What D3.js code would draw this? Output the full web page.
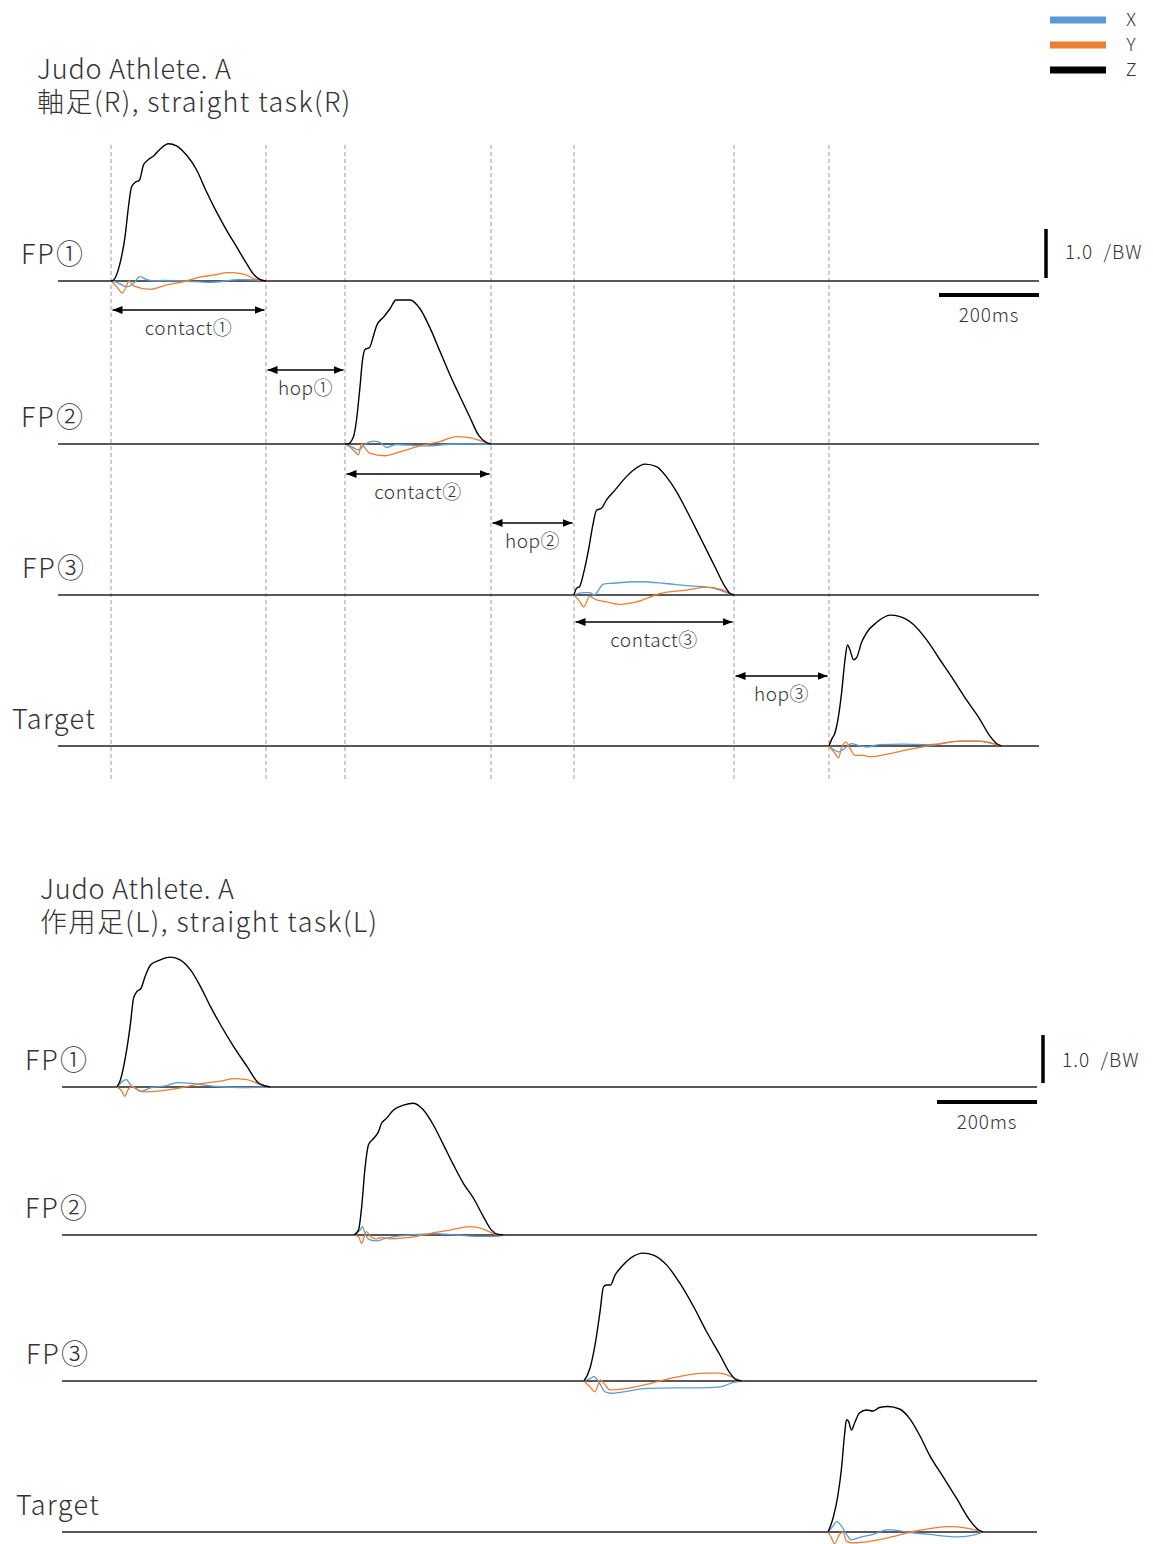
<!DOCTYPE html>
<html><head><meta charset="utf-8">
<script src="https://cdn.jsdelivr.net/npm/d3@7"></script>
<style>
html,body{margin:0;padding:0;background:#fff;}
svg{display:block;}
text{font-family:"Noto Sans CJK JP","Noto Sans",sans-serif;fill:#333;font-weight:300;}
</style></head>
<body>
<svg id="chart" width="1153" height="1544"></svg>
<script>
// ---------------- DATA ----------------
const seriesNames = ["X", "Y", "Z"];
const seriesColors = ["#5B9BD5", "#ED7D31", "#000000"];
const rowLabels = ["FP①", "FP②", "FP③", "Target"];
const titleA = ["Judo Athlete. A", "軸足(R), straight task(R)"];
const titleB = ["Judo Athlete. A", "作用足(L), straight task(L)"];
const scaleForceLabel = "1.0  /BW";
const scaleTimeLabel = "200ms";
const scaleTimeMs = 200;
const scaleForceBW = 1.0;

// contact start time (ms) of each plate, per panel
const startsA = [0, 468, 926, 1436];
const startsB = [0, 474, 934, 1422];
// event markers (ms) in panel A
const eventsA = [0, 310, 468, 760, 926, 1246, 1436];
const phaseLabels = ["contact①", "hop①", "contact②", "hop②", "contact③", "hop③"];

// Panel A curves: [ms from contact start, force /BW]
const aFP1Z = [[0,0],[5,0.02],[18,0.36],[28,0.9],[35,1.52],[41,1.92],[48,2.01],[57,2.06],[65,2.37],[75,2.48],[85,2.55],[98,2.69],[115,2.8],[131,2.76],[151,2.57],[171,2.27],[191,1.82],[211,1.41],[231,1.04],[251,0.7],[271,0.36],[285,0.14],[300,0.02],[310,0]];
const aFP1X = [[0,0],[9,-0.02],[18,-0.06],[31,-0.12],[44,-0.06],[58,0.09],[71,0.03],[91,0],[105,0.01],[145,0],[198,-0.03],[258,0.03],[290,0.02],[310,0]];
const aFP1Y = [[0,0],[10,-0.1],[23,-0.24],[37,0],[45,-0.1],[78,-0.17],[111,-0.08],[151,0],[178,0.08],[204,0.12],[235,0.17],[265,0.14],[285,0.05],[310,0]];

const aFP2Z = [[0,0],[5,0],[17,0.15],[23,0.49],[30,1.17],[35,1.71],[40,1.93],[49,1.97],[57,2.21],[63,2.41],[77,2.59],[90,2.76],[102,2.94],[130,2.94],[150,2.76],[170,2.37],[190,1.89],[210,1.41],[230,0.97],[250,0.54],[267,0.18],[283,0.03],[292,0]];
const aFP2X = [[0,0],[12,-0.05],[27,-0.12],[40,0],[57,0.06],[72,0.02],[83,-0.07],[103,-0.01],[157,-0.04],[223,0],[292,0]];
const aFP2Y = [[0,0],[12,-0.08],[20,-0.16],[27,-0.22],[33,0],[38,-0.06],[50,-0.19],[80,-0.24],[110,-0.16],[157,-0.02],[190,0.05],[223,0.15],[250,0.13],[270,0.07],[292,0]];

const aFP3Z = [[0,0],[5,0.14],[11,0.17],[19,0.44],[29,0.92],[37,1.39],[45,1.73],[55,1.77],[65,1.94],[82,2.14],[99,2.35],[119,2.55],[142,2.67],[165,2.62],[185,2.41],[205,2.11],[225,1.73],[245,1.33],[265,0.92],[285,0.51],[302,0.17],[312,0.03],[320,0]];
const aFP3X = [[0,0],[19,0.05],[32,0.05],[40,0],[59,0.22],[79,0.24],[132,0.27],[179,0.24],[225,0.19],[259,0.17],[292,0.1],[312,0.02],[320,0]];
const aFP3Y = [[0,0],[9,-0.1],[20,-0.24],[31,-0.03],[45,-0.1],[65,-0.14],[92,-0.19],[125,-0.14],[172,0.03],[225,0.1],[265,0.16],[292,0.12],[320,0]];

const aTgZ = [[0,0],[5,0.13],[12,0.27],[19,0.61],[25,1.07],[32,1.76],[37,2.06],[42,1.96],[49,1.76],[55,1.8],[65,2.11],[75,2.31],[95,2.52],[122,2.67],[142,2.64],[169,2.48],[195,2.17],[222,1.76],[249,1.35],[275,0.94],[302,0.54],[322,0.2],[335,0.05],[345,0]];
const aTgX = [[0,0],[9,-0.07],[19,-0.12],[29,-0.07],[45,0.05],[59,0.01],[75,-0.02],[102,0.03],[149,0.04],[202,0.03],[262,0.1],[302,0.1],[345,0]];
const aTgY = [[0,0],[12,-0.15],[19,-0.24],[25,-0.03],[34,0.08],[42,-0.05],[52,-0.19],[69,-0.19],[82,-0.22],[115,-0.17],[155,-0.08],[215,0.03],[262,0.1],[295,0.1],[345,0]];

// Panel B curves
const bFP1Z = [[0,0],[7,0.15],[17,0.62],[27,1.3],[33,1.81],[40,1.95],[48,2.01],[55,2.22],[67,2.49],[83,2.58],[107,2.65],[127,2.59],[147,2.39],[167,2.05],[187,1.64],[207,1.27],[233,0.83],[260,0.42],[283,0.08],[297,0.02],[307,0]];
const bFP1X = [[0,0],[10,0.11],[19,0.15],[27,0.04],[37,-0.02],[47,-0.09],[67,-0.02],[100,0.03],[120,0.09],[153,0.07],[200,0.01],[247,-0.01],[307,0]];
const bFP1Y = [[0,0],[10,-0.09],[15,-0.19],[23,-0.04],[30,0.01],[40,-0.05],[53,-0.1],[87,-0.08],[127,-0.02],[167,0.07],[207,0.12],[233,0.17],[260,0.15],[287,0.05],[307,0]];

const bFP2Z = [[0,0],[9,0.1],[15,0.54],[22,1.36],[29,1.84],[39,1.97],[49,2.11],[55,2.28],[65,2.38],[79,2.55],[99,2.65],[119,2.69],[139,2.55],[159,2.24],[179,1.84],[199,1.43],[219,1.05],[239,0.75],[259,0.37],[275,0.1],[289,0.01],[299,0]];
const bFP2X = [[0,0],[12,0.1],[17,0.17],[22,0.03],[32,-0.1],[45,-0.12],[59,-0.08],[85,-0.03],[125,0.01],[159,0.03],[205,0],[259,-0.03],[285,-0.03],[299,0]];
const bFP2Y = [[0,0],[9,-0.03],[15,-0.17],[25,0.07],[33,-0.03],[45,-0.08],[55,-0.05],[72,-0.08],[112,-0.05],[152,0.03],[192,0.1],[232,0.17],[259,0.12],[285,0.01],[299,0]];

const bFP3Z = [[0,0],[12,0.26],[22,0.73],[32,1.41],[39,1.92],[45,1.96],[53,1.96],[62,2.16],[75,2.33],[92,2.5],[119,2.61],[139,2.57],[165,2.37],[192,1.99],[219,1.52],[245,1.01],[272,0.53],[292,0.16],[305,0.02],[315,0]];
const bFP3X = [[0,0],[12,0.05],[20,0.09],[29,-0.01],[42,-0.22],[55,-0.25],[79,-0.22],[125,-0.15],[179,-0.14],[232,-0.14],[272,-0.12],[299,-0.03],[315,0]];
const bFP3Y = [[0,0],[12,-0.12],[22,-0.22],[33,0.02],[42,-0.08],[52,-0.18],[79,-0.16],[125,-0.07],[179,0.07],[245,0.16],[272,0.16],[299,0.07],[315,0]];

const bTgZ = [[0,0],[10,0.28],[20,0.76],[27,1.3],[33,1.98],[37,2.29],[41,2.26],[47,2.08],[53,2.22],[63,2.43],[77,2.49],[90,2.47],[103,2.54],[120,2.56],[143,2.51],[163,2.32],[183,1.98],[203,1.57],[230,1.13],[257,0.69],[283,0.25],[300,0.05],[310,0]];
const bTgX = [[0,0],[10,0.12],[17,0.21],[27,0.12],[37,-0.05],[47,-0.16],[63,-0.11],[90,-0.05],[120,0.05],[157,0],[203,-0.05],[263,-0.1],[297,-0.05],[310,0]];
const bTgY = [[0,0],[7,-0.12],[13,-0.24],[23,-0.05],[30,0],[37,-0.19],[50,-0.22],[83,-0.19],[123,-0.11],[170,0.01],[210,0.08],[243,0.11],[277,0.08],[310,0]];

const curvesA = [[aFP1X,aFP1Y,aFP1Z],[aFP2X,aFP2Y,aFP2Z],[aFP3X,aFP3Y,aFP3Z],[aTgX,aTgY,aTgZ]];
const curvesB = [[bFP1X,bFP1Y,bFP1Z],[bFP2X,bFP2Y,bFP2Z],[bFP3X,bFP3Y,bFP3Z],[bTgX,bTgY,bTgZ]];

// ---------------- LAYOUT ----------------
const svg = d3.select("#chart");
const defs = svg.append("defs");
defs.append("marker").attr("id","ah").attr("viewBox","0 0 10 8")
  .attr("refX",10).attr("refY",4).attr("markerWidth",10).attr("markerHeight",8)
  .attr("markerUnits","userSpaceOnUse").attr("orient","auto-start-reverse")
  .append("path").attr("d","M0,0L10,4L0,8Z").attr("fill","#000");

const pxPerBW = 49;

const panels = [
  { title: titleA, titleX: 37, titleY: 79,
    starts: startsA, curves: curvesA,
    domain: [-106, 1856], range: [58, 1039], bases: [281, 444, 595, 746],
    labelX: [21, 21, 22, 12],
    bwBar: { x: 1046, y0: 229, y1: 278, tx: 1065, ty: 259 },
    msBar: { y: 295, ty: 322 } },
  { title: titleB, titleX: 40, titleY: 899,
    starts: startsB, curves: curvesB,
    domain: [-110, 1840], range: [62, 1037], bases: [1087, 1235, 1381, 1532],
    labelX: [25, 25, 26, 16],
    bwBar: { x: 1043, y0: 1035, y1: 1083, tx: 1062, ty: 1067 },
    msBar: { y: 1102, ty: 1129 } }
];

panels.forEach((p, pi) => {
  const x = d3.scaleLinear().domain(p.domain).range(p.range);
  const g = svg.append("g");

  // title (one text element, two lines)
  const tt = g.append("text").attr("x", p.titleX).attr("y", p.titleY).attr("font-size", 27);
  tt.selectAll("tspan").data(p.title).join("tspan")
    .attr("x", p.titleX).attr("dy", (d, i) => i === 0 ? 0 : 33)
    .attr("letter-spacing", (d, i) => i === 0 ? 0.8 : 1.45)
    .text(d => d);

  // event dashed lines (panel A only)
  if (pi === 0) {
    g.selectAll("line.ev").data(eventsA).join("line")
      .attr("class","ev").attr("x1", d => x(d)).attr("x2", d => x(d))
      .attr("y1", 145).attr("y2", 781)
      .attr("stroke","#9a9a9a").attr("stroke-width",1).attr("stroke-dasharray","4,3");
  }

  rowLabels.forEach((lab, ri) => {
    const base = p.bases[ri];
    const y = d3.scaleLinear().domain([0, 1]).range([base, base - pxPerBW]);
    // baseline
    g.append("line").attr("x1", p.range[0]).attr("x2", p.range[1])
      .attr("y1", y(0)).attr("y2", y(0)).attr("stroke","#222").attr("stroke-width",1.3);
    // label
    g.append("text").attr("x", p.labelX[ri]).attr("y", base - 17)
      .attr("font-size", 27).attr("letter-spacing", ri === 3 ? 1.4 : 2).text(lab);
    const t0 = p.starts[ri];
    const line = d3.line().x(d => x(t0 + d[0])).y(d => y(d[1])).curve(d3.curveMonotoneX);
    p.curves[ri].forEach((data, si) => {
      g.append("path").datum(data).attr("d", line).attr("fill","none")
        .attr("stroke", seriesColors[si]).attr("stroke-width", si === 2 ? 1.4 : 1.3)
        .attr("stroke-linejoin","round");
    });
  });

  // scale bars
  const ys = d3.scaleLinear().domain([0, 1]).range([p.bwBar.y1, p.bwBar.y0]);
  g.append("line").attr("x1", p.bwBar.x).attr("x2", p.bwBar.x)
    .attr("y1", ys(0)).attr("y2", ys(scaleForceBW)).attr("stroke","#000").attr("stroke-width",3.5);
  g.append("text").attr("x", p.bwBar.tx).attr("y", p.bwBar.ty).attr("font-size",19)
    .attr("letter-spacing", 1).text(scaleForceLabel.replace(/ /g, "\u00A0"));
  const xEnd = p.range[1];
  const xStart = xEnd - (x(scaleTimeMs) - x(0));
  g.append("line").attr("x1", xStart).attr("x2", xEnd).attr("y1", p.msBar.y).attr("y2", p.msBar.y)
    .attr("stroke","#000").attr("stroke-width",4);
  g.append("text").attr("x", (xStart + xEnd) / 2).attr("y", p.msBar.ty).attr("text-anchor","middle")
    .attr("font-size",19).attr("letter-spacing",0.8).text(scaleTimeLabel);

  // phase arrows (panel A)
  if (pi === 0) {
    const arrowY = [310, 370, 474, 523, 622, 676];
    const phases = phaseLabels.map((lab, i) => ({ lab, a: eventsA[i], b: eventsA[i + 1], y: arrowY[i] }));
    phases.forEach(ph => {
      const xa = x(ph.a) + 1.5, xb = x(ph.b) - 1.5;
      g.append("line").attr("x1", xa).attr("x2", xb).attr("y1", ph.y).attr("y2", ph.y)
        .attr("stroke","#000").attr("stroke-width",1.5)
        .attr("marker-start","url(#ah)").attr("marker-end","url(#ah)");
      g.append("text").attr("x", (xa + xb) / 2).attr("y", ph.y + 25).attr("text-anchor","middle")
        .attr("font-size",19).attr("letter-spacing",0.55).text(ph.lab);
    });
  }
});

// legend
const leg = svg.append("g");
seriesNames.forEach((n, i) => {
  const ly = 20 + i * 25;
  leg.append("line").attr("x1",1050).attr("x2",1106).attr("y1",ly).attr("y2",ly)
    .attr("stroke", seriesColors[i]).attr("stroke-width",7);
  leg.append("text").attr("x",1131).attr("y",ly+6).attr("text-anchor","middle")
    .attr("font-size",18).text(n);
});
</script>
</body></html>
